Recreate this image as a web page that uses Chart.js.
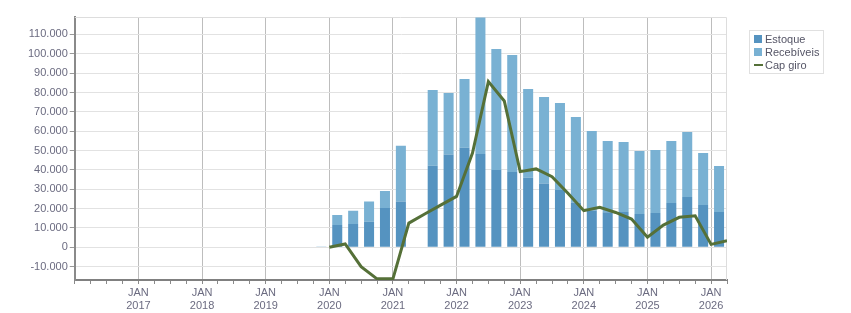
<!DOCTYPE html>
<html>
<head>
<meta charset="utf-8">
<script src="https://cdn.jsdelivr.net/npm/chart.js@4.4.1/dist/chart.umd.min.js"></script>
<style>
  body { margin: 0; background: #fff; }
  #wrap { position: relative; width: 851px; height: 313px; }
  canvas { display: block; }
  #legend {
    position: absolute; left: 749px; top: 30px; width: 75px; height: 44px;
    box-sizing: border-box; border: 1px solid #e0e0e0; padding: 2px 0 0 4px;
    font-family: 'Liberation Sans'; font-size: 11px; color: #555566; line-height: 13px;
  }
  #legend .row { white-space: nowrap; }
  #legend .sym { display: inline-block; width: 8px; height: 8px; margin-right: 3px; vertical-align: -0px; }
  #legend .sym.line { width: 9px; height: 2px; margin-right: 2px; vertical-align: 3px; }
</style>
</head>
<body>
<div id="wrap">
  <canvas id="capChart" width="851" height="313"></canvas>
  <div id="legend"></div>
</div>
<script>
// trimestres (inicio do trimestre)
var quarters = ['2019-10', '2020-01', '2020-04', '2020-07', '2020-10', '2021-01', '2021-04', '2021-07', '2021-10',
    '2022-01', '2022-04', '2022-07', '2022-10', '2023-01', '2023-04', '2023-07', '2023-10',
    '2024-01', '2024-04', '2024-07', '2024-10', '2025-01', '2025-04', '2025-07', '2025-10', '2026-01'];
var estoque = [0, 11500, 12000, 13200, 20300, 23600, null, 42200, 47900, 51500, 48200, 39900, 38900,
    36000, 32900, 29600, 23100, 19000, 18100, 18200, 17200, 17700, 22900, 26000, 21900, 18200];
var recebiveis = [400, 5200, 6900, 10400, 8800, 28900, null, 39100, 31800, 35500, 70500, 62600, 60500,
    45800, 44800, 45000, 44200, 41100, 36800, 36200, 32600, 32600, 32000, 33600, 26800, 23800];
// cap giro no fim de cada trimestre
var capGiro = [0, 1700, -10000, -16300, -16300, 12500, 17200, 21800, 26300, 48700, 85600, 75600, 39100,
    40500, 36500, 27900, 18900, 20700, 18000, 14600, 5200, 11500, 15500, 16300, 1500, 3400];
var yTicks = [-10000, 0, 10000, 20000, 30000, 40000, 50000, 60000, 70000, 80000, 90000, 100000, 110000];

var startYear = 2016;
var axisMin = 0;     // JAN 2016
var axisMax = 123;   // ABR 2026
var yMin = -16900;
var yMax = 119000;

function monthIndex(q) {
    var p = q.split('-');
    return (parseInt(p[0]) - startYear) * 12 + parseInt(p[1]) - 1;
}

var estoqueData = [], recebData = [], capData = [];
quarters.forEach(function (q, i) {
    var m = monthIndex(q);
    estoqueData.push({x: m + 1.5, y: estoque[i]});
    recebData.push({x: m + 1.5, y: recebiveis[i]});
    capData.push({x: m + 3, y: capGiro[i]});
});

function fmt(v) {
    var s = Math.abs(v).toString().replace(/\B(?=(\d{3})+(?!\d))/g, '.');
    return (v < 0 ? '-' : '') + s;
}

var textColor = '#6b6b80';
var font = {family: 'Liberation Sans', size: 11};
var xFont = {family: 'Liberation Sans', size: 11, lineHeight: '13px'};

// moldura do grafico (topo e direita)
var framePlugin = {
    id: 'frame',
    beforeDatasetsDraw: function (chart) {
        var a = chart.chartArea, ctx = chart.ctx;
        ctx.save();
        ctx.strokeStyle = '#dddddd';
        ctx.lineWidth = 1;
        ctx.beginPath();
        ctx.moveTo(a.left, a.top + 0.5);
        ctx.lineTo(a.right - 0.5, a.top + 0.5);
        ctx.lineTo(a.right - 0.5, a.bottom);
        ctx.stroke();
        ctx.restore();
    }
};

// legenda em html, gerada a partir dos datasets
var htmlLegend = {
    id: 'htmlLegend',
    afterUpdate: function (chart) {
        var box = document.getElementById('legend');
        box.innerHTML = '';
        var items = chart.options.plugins.legend.labels.generateLabels(chart);
        items.sort(function (a, b) { return a.datasetIndex - b.datasetIndex; });
        items.forEach(function (item) {
            var ds = chart.data.datasets[item.datasetIndex];
            var row = document.createElement('div');
            row.className = 'row';
            var sym = document.createElement('span');
            sym.className = 'sym' + (ds.type === 'line' ? ' line' : '');
            sym.style.background = ds.type === 'line' ? ds.borderColor : ds.backgroundColor;
            row.appendChild(sym);
            row.appendChild(document.createTextNode(item.text));
            box.appendChild(row);
        });
    }
};

var ctx = document.getElementById('capChart').getContext('2d');
var chart = new Chart(ctx, {
    type: 'bar',
    data: {
        datasets: [
            {
                label: 'Estoque',
                data: estoqueData,
                backgroundColor: '#5593c0',
                stack: 'cap',
                order: 1,
                barPercentage: 0.63,
                categoryPercentage: 1
            },
            {
                label: 'Recebíveis',
                data: recebData,
                backgroundColor: '#79b1d3',
                stack: 'cap',
                order: 1,
                barPercentage: 0.63,
                categoryPercentage: 1
            },
            {
                type: 'line',
                label: 'Cap giro',
                data: capData,
                borderColor: '#557038',
                backgroundColor: '#557038',
                borderWidth: 3,
                tension: 0,
                pointRadius: 0,
                order: 0
            }
        ]
    },
    options: {
        responsive: false,
        animation: false,
        layout: {padding: {left: 26, top: 17, right: 124, bottom: -2}},
        plugins: {
            tooltip: {enabled: false},
            legend: {display: false}
        },
        scales: {
            x: {
                type: 'linear',
                min: axisMin,
                max: axisMax,
                offset: false,
                border: {color: '#808080', width: 2},
                grid: {
                    offset: false,
                    color: function (c) {
                        if (!c.tick) return 'rgba(0,0,0,0)';
                        var v = c.tick.value;
                        return (v % 12 === 0 && v > 0) ? '#bdbdbd' : 'rgba(0,0,0,0)';
                    },
                    tickColor: '#8a8a8a',
                    tickLength: 4
                },
                ticks: {
                    stepSize: 3,
                    autoSkip: false,
                    maxRotation: 0,
                    padding: 2.5,
                    color: textColor,
                    font: xFont,
                    callback: function (v) {
                        if (v % 12 === 0 && v > 0) return ['JAN', String(startYear + v / 12)];
                        return '';
                    }
                }
            },
            y: {
                min: yMin,
                max: yMax,
                border: {color: '#8a8a8a', width: 2},
                grid: {color: '#e2e2e2', tickColor: '#999999', tickLength: 5},
                afterBuildTicks: function (scale) {
                    scale.ticks = yTicks.map(function (v) { return {value: v}; });
                },
                ticks: {
                    padding: 2,
                    color: textColor,
                    font: font,
                    callback: function (v) { return fmt(v); }
                }
            }
        }
    },
    plugins: [framePlugin, htmlLegend]
});
</script>
</body>
</html>
